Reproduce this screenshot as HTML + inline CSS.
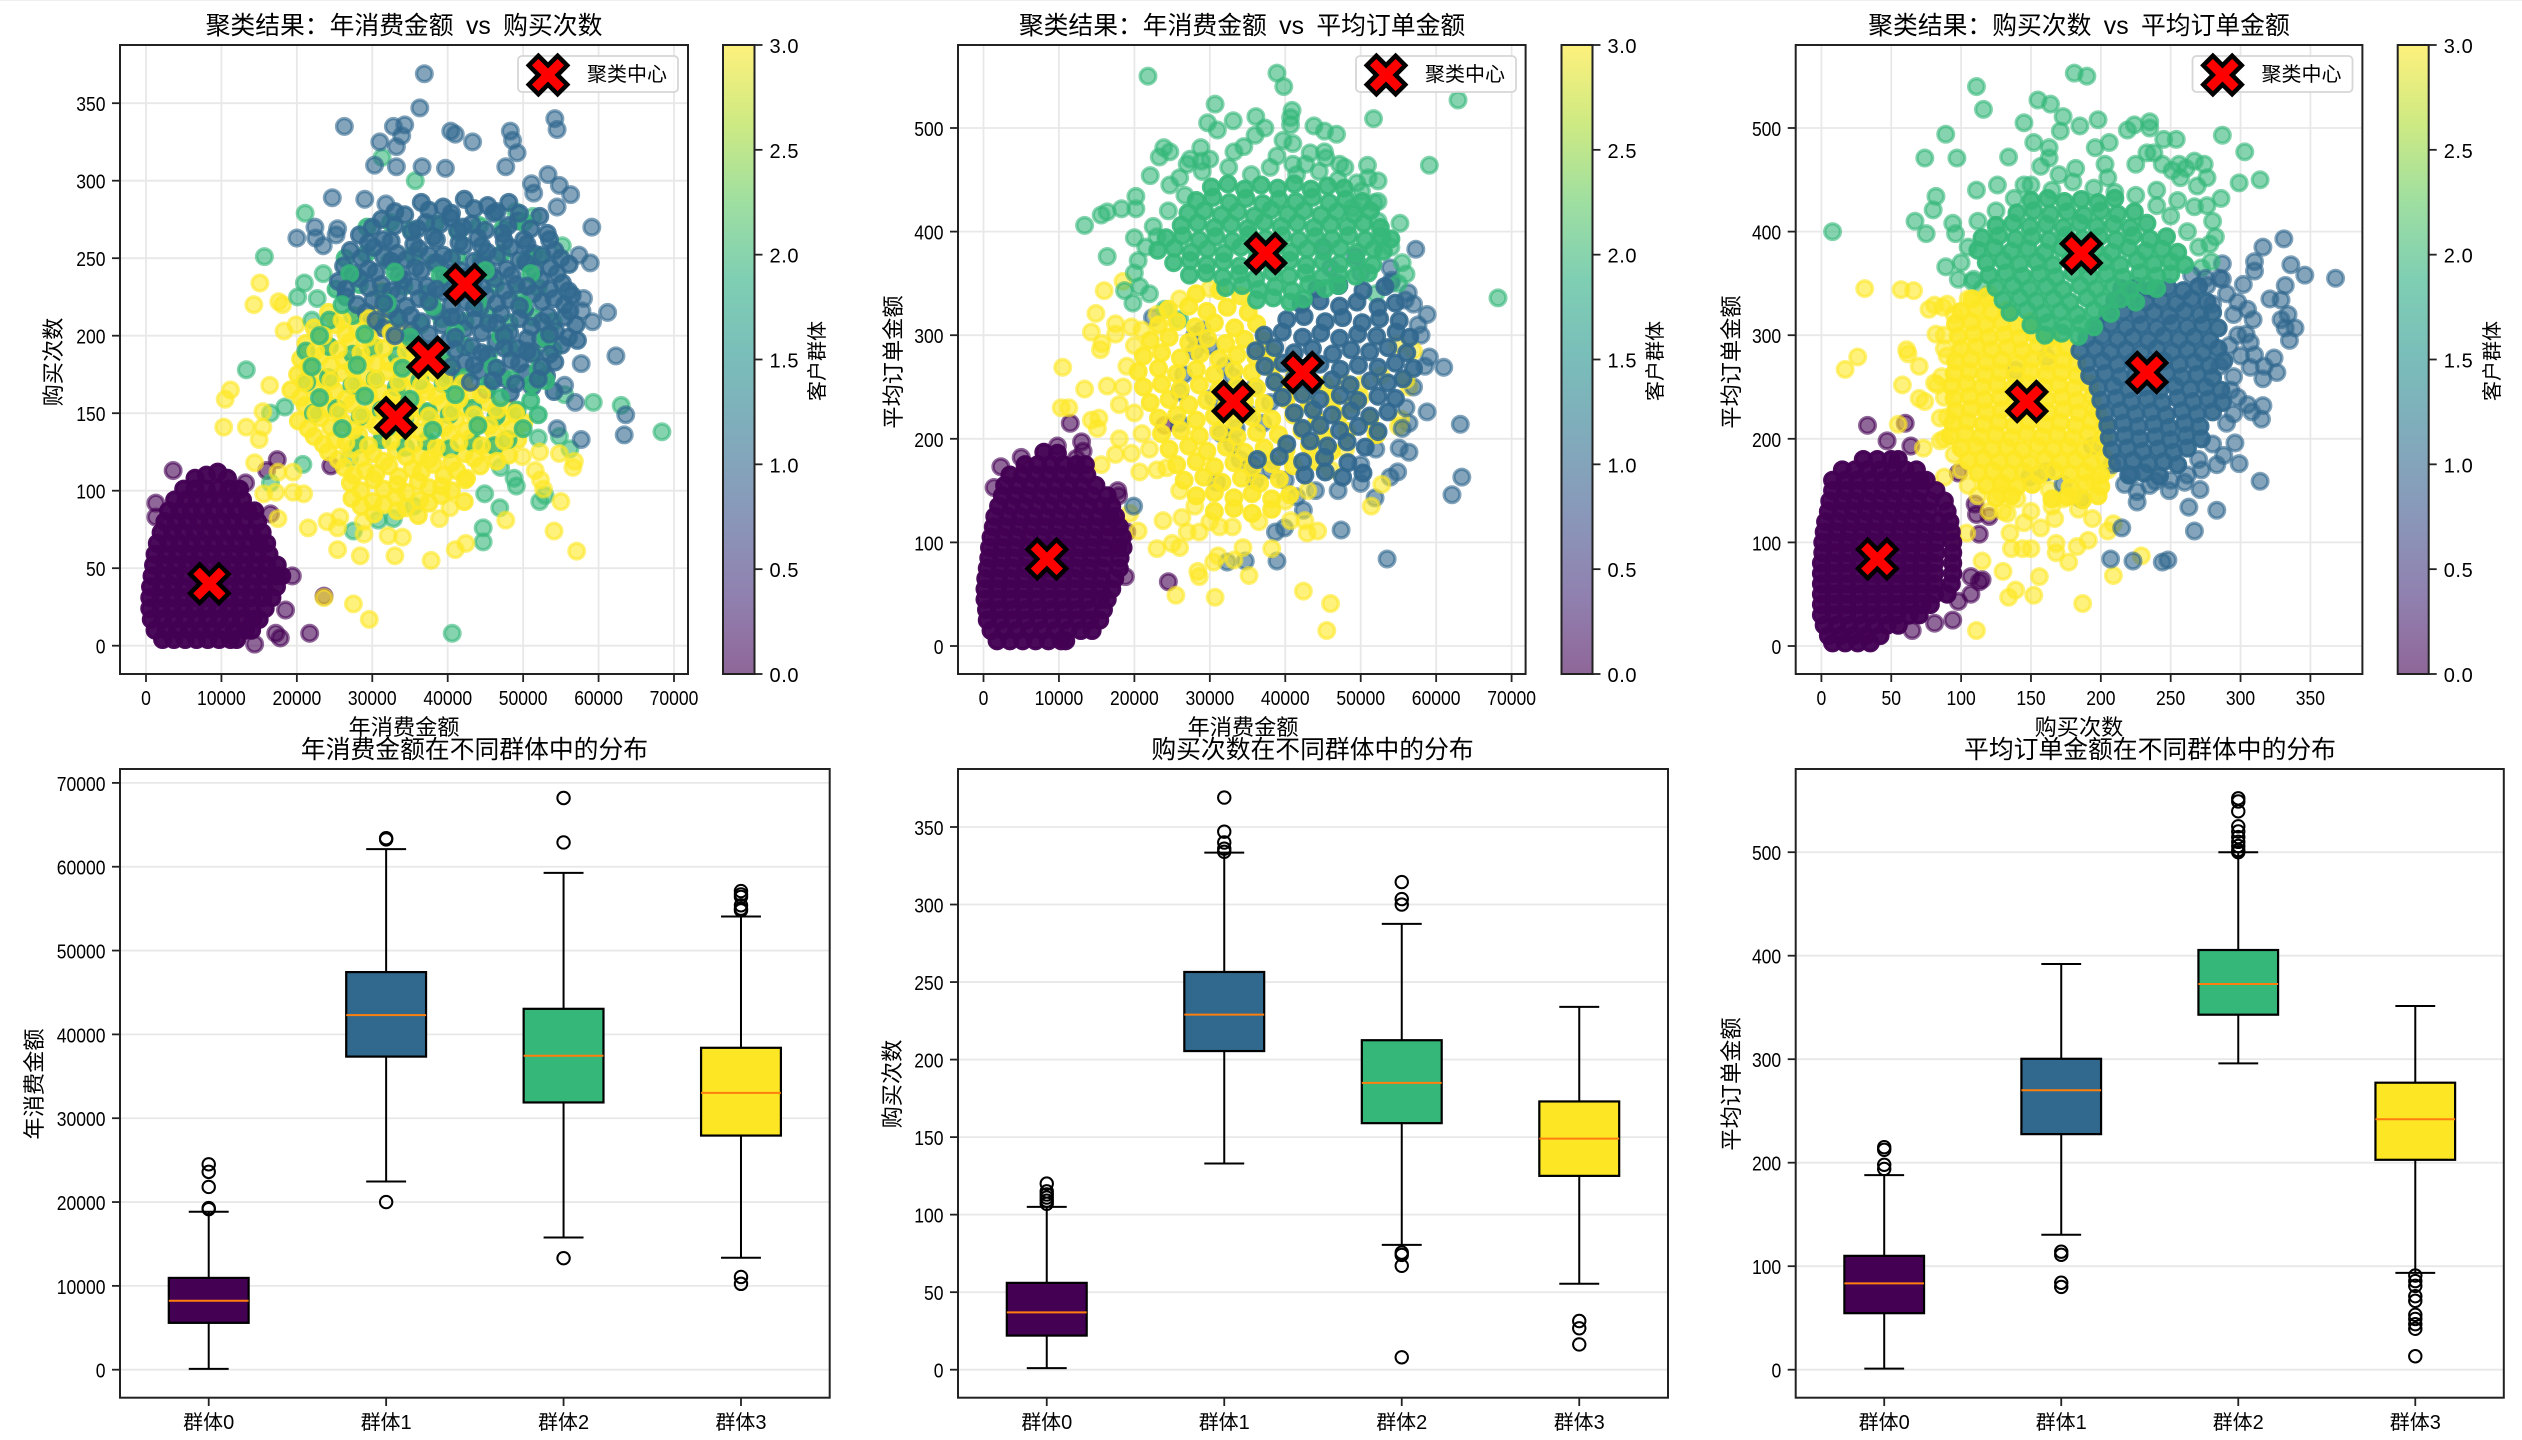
<!DOCTYPE html>
<html lang="zh">
<head>
<meta charset="utf-8">
<title>客户聚类结果</title>
<style>
html,body{margin:0;padding:0;background:#fff;}
svg{display:block;}
text{font-family:"Liberation Sans","Noto Sans CJK SC",sans-serif;fill:#000;}
.ttl{font-size:24.8px;text-anchor:middle;}
.lab{font-size:22.2px;text-anchor:middle;}
.cbl{font-size:20px;text-anchor:middle;}
.leg{font-size:20px;}
.spine{fill:none;stroke:#222;stroke-width:2;}
.legbox{fill:#fff;fill-opacity:.8;stroke:#d6d6d6;stroke-width:1.8;}
.xm{fill:#f00;stroke:#000;stroke-width:.46;stroke-linejoin:miter;}
</style>
</head>
<body>
<svg id="chart" xmlns="http://www.w3.org/2000/svg" width="2522" height="1440" viewBox="0 0 2522 1440">
<defs>
<linearGradient id="viridis" x1="0" y1="1" x2="0" y2="0">
<stop offset="0" stop-color="#440154" stop-opacity=".6"/><stop offset=".125" stop-color="#472d7b" stop-opacity=".6"/><stop offset=".25" stop-color="#3b528b" stop-opacity=".6"/><stop offset=".375" stop-color="#2c728e" stop-opacity=".6"/><stop offset=".5" stop-color="#21918c" stop-opacity=".6"/><stop offset=".625" stop-color="#28ae80" stop-opacity=".6"/><stop offset=".75" stop-color="#5ec962" stop-opacity=".6"/><stop offset=".875" stop-color="#addc30" stop-opacity=".6"/><stop offset="1" stop-color="#fde725" stop-opacity=".6"/>
</linearGradient>
</defs>
<rect x="0" y="0" width="2522" height="1440" fill="#fff"/>
<rect x="0" y="0" width="2522" height="1" fill="#efefef"/>

<g>
<g id="p1"></g>
<rect class="spine" x="120" y="45" width="568" height="629"/>
<g id="p1c"></g>
<text class="ttl" x="404" y="34">聚类结果：年消费金额&#8194;vs&#8194;购买次数</text>
<text class="lab" x="404" y="735">年消费金额</text>
<text class="lab" transform="translate(61 362) rotate(-90)">购买次数</text>
<g><rect class="legbox" x="518" y="56" width="160" height="36" rx="4"/><polygon class="xm" transform="translate(548 75) scale(9.625)" points="-1,-2 0,-1 1,-2 2,-1 1,0 2,1 1,2 0,1 -1,2 -2,1 -1,0 -2,-1"/><text class="leg" x="587" y="81">聚类中心</text></g>
<rect x="723" y="45" width="31.500" height="629" fill="url(#viridis)"/>
<rect class="spine" x="723" y="45" width="31.500" height="629"/>
<g id="p1b"></g>
<text class="cbl" transform="translate(824 361) rotate(-90)">客户群体</text>
</g>

<g>
<g id="p2"></g>
<rect class="spine" x="958" y="45" width="567.600" height="629"/>
<g id="p2c"></g>
<text class="ttl" x="1242" y="34">聚类结果：年消费金额&#8194;vs&#8194;平均订单金额</text>
<text class="lab" x="1243" y="735">年消费金额</text>
<text class="lab" transform="translate(901 362) rotate(-90)">平均订单金额</text>
<g><rect class="legbox" x="1356" y="56" width="160" height="36" rx="4"/><polygon class="xm" transform="translate(1386 75) scale(9.625)" points="-1,-2 0,-1 1,-2 2,-1 1,0 2,1 1,2 0,1 -1,2 -2,1 -1,0 -2,-1"/><text class="leg" x="1425" y="81">聚类中心</text></g>
<rect x="1561.500" y="45" width="31" height="629" fill="url(#viridis)"/>
<rect class="spine" x="1561.500" y="45" width="31" height="629"/>
<g id="p2b"></g>
<text class="cbl" transform="translate(1662 361) rotate(-90)">客户群体</text>
</g>

<g>
<g id="p3"></g>
<rect class="spine" x="1795.700" y="45" width="566.700" height="629"/>
<g id="p3c"></g>
<text class="ttl" x="2079" y="34">聚类结果：购买次数&#8194;vs&#8194;平均订单金额</text>
<text class="lab" x="2079" y="735">购买次数</text>
<text class="lab" transform="translate(1739 362) rotate(-90)">平均订单金额</text>
<g><rect class="legbox" x="2192.500" y="56" width="160" height="36" rx="4"/><polygon class="xm" transform="translate(2222.500 75) scale(9.625)" points="-1,-2 0,-1 1,-2 2,-1 1,0 2,1 1,2 0,1 -1,2 -2,1 -1,0 -2,-1"/><text class="leg" x="2261.500" y="81">聚类中心</text></g>
<rect x="2397.700" y="45" width="31" height="629" fill="url(#viridis)"/>
<rect class="spine" x="2397.700" y="45" width="31" height="629"/>
<g id="p3b"></g>
<text class="cbl" transform="translate(2499 361) rotate(-90)">客户群体</text>
</g>

<g>
<g id="b1"></g>
<rect class="spine" x="120" y="769" width="709.700" height="628.700"/>
<text class="ttl" x="474.500" y="758">年消费金额在不同群体中的分布</text>
<text class="lab" transform="translate(42 1084) rotate(-90)">年消费金额</text>
</g>
<g>
<g id="b2"></g>
<rect class="spine" x="958" y="769" width="710" height="628.700"/>
<text class="ttl" x="1312.500" y="758">购买次数在不同群体中的分布</text>
<text class="lab" transform="translate(900 1084) rotate(-90)">购买次数</text>
</g>
<g>
<g id="b3"></g>
<rect class="spine" x="1795.700" y="769" width="708.100" height="628.700"/>
<text class="ttl" x="2150" y="758">平均订单金额在不同群体中的分布</text>
<text class="lab" transform="translate(1739 1084) rotate(-90)">平均订单金额</text>
</g>
</svg>
<script>
/* ---------- cluster centres ---------- */
const centerSpend=[8400,42300,37400,33100];
const centerCount=[40,233,186,147];
const centerOrder=[84,264,379,236];
const clusterColors=['#440154','#31688e','#35b779','#fde725'];

/* ---------- panel 1: spend (x) vs count (y). "core" = heavily overplotted points, "outer" = individually visible points ---------- */
const p1c0x=[6500,8000,9500,10800,
5000,6500,8000,9500,11000,12400,
3800,5300,6800,8300,9800,11300,12800,
3000,4500,6000,7500,9000,10500,12000,13500,14400,
2500,4000,5500,7000,8500,10000,11500,13000,14800,
2000,3500,5000,6500,8000,9500,11000,12500,14000,15400,
1500,3000,4500,6000,7500,9000,10500,12000,13500,15000,16000,
1200,2700,4200,5700,7200,8700,10200,11700,13200,14700,16300,
1000,2500,4000,5500,7000,8500,10000,11500,13000,14500,16000,17400,
800,2300,3800,5300,6800,8300,9800,11300,12800,14300,15800,17300,18000,
600,2100,3600,5100,6600,8100,9600,11100,12600,14100,15600,17300,
500,2000,3500,5000,6500,8000,9500,11000,12500,14000,15500,16700,
500,2000,3500,5000,6500,8000,9500,11000,12500,14000,15800,
700,2200,3700,5200,6700,8200,9700,11200,12700,14200,15000,
1200,2700,4200,5700,7200,8700,10200,11700,13200,14000,
2200,3700,5200,6700,8200,9700,11200,12000];
const p1c0y=[108,110,112,108,
101,101,101,101,101,101,
94,94,94,94,94,94,94,
87,87,87,87,87,87,87,87,87,
80,80,80,80,80,80,80,80,80,
73,73,73,73,73,73,73,73,73,73,
66,66,66,66,66,66,66,66,66,66,66,
59,59,59,59,59,59,59,59,59,59,59,
52,52,52,52,52,52,52,52,52,52,52,52,
45,45,45,45,45,45,45,45,45,45,45,45,45,
38,38,38,38,38,38,38,38,38,38,38,38,
31,31,31,31,31,31,31,31,31,31,31,31,
24,24,24,24,24,24,24,24,24,24,24,
17,17,17,17,17,17,17,17,17,17,17,
10,10,10,10,10,10,10,10,10,10,
4,4,4,4,4,4,4,4];
const p1c0ox=[3600,1300,1300,17400,16000,13200,21700,23600,24500,14400,17200,17800,19400,18500,16500];
const p1c0oy=[113,92,83,120,113,105,8,32,116,1,8,5,45,23,85];
const p1c1ox=[36900,36300,26300,32800,34300,33900,31000,33200,40400,41000,43300,48300,48600,49200,54200,54500,30300,33200,36600,39700,47700,53300,54800,56300,51100,51400,24700,29000,31800,54500,59100,20000,22400,22500,23500,25400,25200,57400,58900,61200,59200,62300,57700,63600,63400,57700,54500,56900,55500,58000,57800];
const p1c1oy=[369,347,335,335,336,329,325,322,332,330,325,332,326,318,340,333,310,309,309,308,309,304,297,291,298,292,289,288,285,283,270,263,270,263,258,269,265,252,247,215,209,187,182,149,136,133,140,157,168,224,216];
const p1c1x=[36500,39400,42200,45300,48100,
31200,34300,37100,40400,43200,46100,49300,52200,
28300,31500,35200,38100,41300,44000,47300,50100,53200,
27100,30200,33300,36200,39400,42100,45200,48300,51400,54200,
26200,29500,32500,35700,38500,41700,44500,47800,50400,53600,56100,
25500,28300,31200,34100,37300,40200,43400,46200,49100,52300,55200,
26500,30100,33400,36200,39300,42400,45100,48200,51300,54100,56500,
29200,32300,35100,38400,41200,44300,47100,50200,53300,56200,
31400,35200,39300,42200,45400,48200,51100,54300,57000,
35300,40200,43200,46400,49200,52300,55100,57200,
37200,42300,45200,48400,51200,54200,
40100,44200,47300,50300,53100,
45200,48300,51200,54100,
33000,37500,40500,43500,46500,49500,
30000,33000,36000,39000,42000,45000,48000,51000,
29500,32500,35500,38500,41500,44500,47500,50500,53500,
28500,31500,34500,37500,40500,43500,46500,49500,52500,55000,
27500,30500,33500,36500,39500,42500,45500,48500,51500,54500,
26500,29500,32500,35500,38500,41500,44500,47500,50500,53500,56000,
28000,31500,34500,37500,40500,43500,46500,49500,52500,55500,
30500,33500,36500,40500,43500,46500,49500,52500,55500,
33000,37500,41000,44500,47500,50500,53500,56000,
37500,41000,44500,47500,50500,53500,
40500,43500,46500,49500,52500,
43000,46000,49000,52000];
const p1c1y=[286,283,288,284,286,
275,278,273,276,272,279,274,277,
265,262,267,264,268,263,266,262,266,
255,257,253,256,252,258,254,257,253,255,
245,243,248,244,247,242,246,243,247,244,246,
235,237,233,236,232,238,234,237,233,236,234,
225,223,227,224,228,222,226,223,227,224,226,
215,217,213,216,212,218,214,217,213,216,
205,203,207,204,208,202,206,203,207,
195,197,193,196,192,198,194,197,
185,183,187,184,188,183,
175,177,173,176,174,
165,163,167,164,
280,281,279,282,280,279,
270,271,269,272,270,268,271,269,
260,261,259,262,260,258,261,259,262,
250,251,249,252,250,248,251,249,252,250,
240,241,239,242,240,238,241,239,242,240,
230,231,229,232,230,228,231,229,232,230,229,
220,221,219,222,220,218,221,219,222,220,
210,211,209,212,210,208,211,209,212,
200,201,199,202,200,198,201,199,
190,191,189,192,190,188,
180,181,179,182,180,
170,171,169,172];
const p1c2ox=[31300,35700,21100,15700,23500,21000,20100,22700,22000,13300,16500,18400,20800,16500,27000,27500,30800,32800,35500,40600,44700,44700,46900,52200,52900,48800,49100,47000,44900,59300,63000,68400,52000,54800,56200,55500,51300,55200,49000];
const p1c2oy=[315,300,279,251,240,234,225,224,210,178,150,154,117,105,121,74,81,82,90,8,76,67,89,93,97,108,103,115,98,157,155,138,134,135,127,162,277,258,280];
const p1c2x=[29300,32400,35200,38300,41400,44200,47300,50100,
26400,29200,32300,35400,38200,41300,44400,47200,50300,52100,
25200,28300,31400,34200,37300,40400,43200,46300,49400,52000,
24300,27400,30200,33300,36400,39200,42300,45400,48200,51300,54000,
21200,24300,27400,30200,33300,36400,39200,42300,45400,48200,51300,54000,
21300,24200,27300,30400,33200,36300,39400,42200,45300,48400,51200,53000,
22200,25300,28400,31200,34300,37400,40200,43300,46400,49200,52000,
28200,31300,34400,37200,40300,43400,46200,48000,
27000,33000,39000,45000,51000,
26000,32000,38000,44000,50000,
23000,29000,35000,41000,47000,53000,
22000,28000,34000,40000,46000,52000,
23000,29000,35000,41000,47000,51000,
26000,32000,38000,44000,50000];
const p1c2y=[270,273,268,272,267,271,269,273,
250,253,248,252,247,251,249,253,248,251,
230,233,228,232,227,231,229,233,228,231,
210,213,208,212,207,211,209,213,208,212,209,
190,193,188,192,187,191,189,193,188,192,189,191,
170,173,168,172,167,171,169,173,168,172,169,171,
150,153,148,152,147,151,149,153,148,152,149,
130,133,128,132,127,131,129,133,
240,241,239,242,240,
220,221,219,222,220,
200,201,199,202,200,198,
180,181,179,182,180,178,
160,161,159,162,160,158,
140,141,139,142,140];
const p1c3ox=[15100,14300,17600,18100,31200,18300,19900,11200,10500,10300,13300,15500,15000,16400,15500,14400,17500,19500,19500,20900,17200,15600,17500,21500,24000,25400,25700,25400,28400,28900,28800,32100,34000,33000,37800,41000,42400,47700,54100,57100,55000,27500,29600,23600,38900,40300,52300,52700,51600,56600,56800,54800,52200,49900];
const p1c3oy=[234,220,222,220,229,203,207,165,159,141,141,141,133,168,151,118,112,112,99,98,99,98,82,76,80,76,83,62,58,72,80,71,70,58,55,62,66,81,74,61,93,27,17,31,82,89,107,101,113,115,119,124,125,122];
const p1c3x=[24200,28300,31100,
22300,25200,28100,31300,34200,
21200,24300,27100,30200,33300,36100,
20500,23200,26300,29100,32200,35300,38100,
20100,23300,26200,29300,32100,35200,38300,41200,
19200,22300,25100,28200,31300,34100,37200,40300,43100,
21100,24200,27300,30100,33200,36300,39100,42200,45300,48100,
20200,23100,26200,29300,32100,35200,38300,41100,44200,47300,50100,
22300,25100,28200,31300,34100,37200,40300,43100,46200,49300,
24200,27300,30100,33200,36300,39100,42200,45300,48100,
26300,29100,32200,35300,38100,41200,44300,
27100,30200,33300,36100,39200,42300,
27300,30100,33200,36300,39100,42200,
30200,33300,36100,
26000,29500,
23500,26500,29500,32500,
22500,25500,28500,31500,34500,
21500,24500,27500,30500,33500,36500,39500,
21000,24500,27500,30500,33500,36500,39500,42000,
20500,23500,26500,29500,32500,35500,38500,41500,44500,
22500,25500,28500,31500,34500,37500,40500,43500,46500,49000,
21500,24500,27500,30500,33500,36500,39500,42500,45500,48500,
23500,26500,29500,32500,35500,38500,41500,44500,47500,
25500,28500,31500,34500,37500,40500,43500,46500,
27500,30500,33500,36500,39500,42500,
28500,31500,34500,37500,40500,
28500,31500,34500,37500];
const p1c3y=[215,213,216,
205,207,204,206,203,
195,193,196,194,197,193,
185,187,184,186,183,187,184,
175,173,176,174,177,173,176,174,
165,167,164,166,163,167,164,166,163,
155,153,156,154,157,153,156,154,157,153,
145,147,144,146,143,147,144,146,143,147,144,
135,133,136,134,137,133,136,134,137,133,
125,127,124,126,123,127,124,126,123,
115,113,116,114,117,113,116,
105,107,104,106,103,107,
95,93,96,94,97,93,
85,87,84,
210,211,
200,201,199,202,
190,191,189,192,190,
180,181,179,182,180,178,181,
170,171,169,172,170,168,171,169,
160,161,159,162,160,158,161,159,162,
150,151,149,152,150,148,151,149,152,150,
140,141,139,142,140,138,141,139,142,140,
130,131,129,132,130,128,131,129,132,
120,121,119,122,120,118,121,119,
110,111,109,112,110,108,
100,101,99,102,100,
90,91,89,92];

/* ---------- panel 2: spend (x) vs average order value (y) ---------- */
const p2c0x=[8000,9800,
5500,7200,8900,10600,12300,13500,
3500,5200,6900,8600,10300,12000,13700,
2800,4500,6200,7900,9600,11300,13000,14900,
2500,4200,5900,7600,9300,11000,12700,14400,16400,
2000,3700,5400,7100,8800,10500,12200,13900,15600,17000,
1500,3200,4900,6600,8300,10000,11700,13400,15100,16800,17500,
1300,3000,4700,6400,8100,9800,11500,13200,14900,16600,18000,
1000,2700,4400,6100,7800,9500,11200,12900,14600,16300,18400,
800,2500,4200,5900,7600,9300,11000,12700,14400,16100,17800,18500,
700,2400,4100,5800,7500,9200,10900,12600,14300,16000,18100,
500,2200,3900,5600,7300,9000,10700,12400,14100,15800,18000,
300,2000,3700,5400,7100,8800,10500,12200,13900,15600,17400,
200,1900,3600,5300,7000,8700,10400,12100,13800,15500,17000,
200,1900,3600,5300,7000,8700,10400,12100,13800,15500,16400,
400,2100,3800,5500,7200,8900,10600,12300,14000,15900,
500,2200,3900,5600,7300,9000,10700,12400,14100,15400,
1000,2700,4400,6100,7800,9500,11200,12900,14400,
1800,3500,5200,6900,8600,10300,10900];
const p2c0y=[187,186,
175,175,175,175,175,175,
165,165,165,165,165,165,165,
155,155,155,155,155,155,155,155,
145,145,145,145,145,145,145,145,145,
135,135,135,135,135,135,135,135,135,135,
125,125,125,125,125,125,125,125,125,125,125,
115,115,115,115,115,115,115,115,115,115,115,
105,105,105,105,105,105,105,105,105,105,105,
95,95,95,95,95,95,95,95,95,95,95,95,
85,85,85,85,85,85,85,85,85,85,85,
75,75,75,75,75,75,75,75,75,75,75,
65,65,65,65,65,65,65,65,65,65,65,
55,55,55,55,55,55,55,55,55,55,55,
45,45,45,45,45,45,45,45,45,45,45,
35,35,35,35,35,35,35,35,35,35,
25,25,25,25,25,25,25,25,25,25,
15,15,15,15,15,15,15,15,15,
5,5,5,5,5,5,5];
const p2c0ox=[11500,9800,13000,5000,2300,1400,13200,12300,17800,17900,19000,18800,24500,24000];
const p2c0oy=[215,193,197,182,173,153,188,181,150,145,110,67,62,213];
const p2c1ox=[57300,53900,54100,56300,55900,58800,57600,59100,61000,58800,63200,56400,55100,56400,54900,53900,63400,62100,51900,50000,47400,53500,42400,41500,39900,38700,38900,32300,34700,19900,30900,22400,45000,49300,
29000,30000,26500,28000,28000,26000,30500,32000,33000,32000,26000,31500,33000,35500,38000,37000,35000,38000,36000,
57000,58000,58500,57000,56000,55500,52000,50000,47000,44000,40000,36000,34000,33500,54000,50000,47000,46000];
const p2c1oy=[383,365,353,341,334,320,310,279,269,226,214,215,191,187,168,163,163,146,143,157,112,84,131,144,114,110,82,81,82,135,158,317,385,376,
305,290,262,300,285,245,240,270,260,225,215,205,195,175,170,215,225,235,250,
330,300,270,250,230,210,190,175,150,150,160,160,180,210,350,360,350,365];
const p2c1x=[44200,47100,50300,53200,
42100,44600,47200,49500,52300,54600,
40200,42500,45300,47600,50200,52500,55100,
37200,39600,42300,44700,47200,49600,52100,54700,56500,
36100,38600,41200,43600,46300,48700,51200,53600,56100,
37300,39700,42100,44600,47300,49700,52300,54600,57000,
38600,41200,43600,46200,48600,51300,53600,55600,
39600,42300,44600,47300,49600,52300,54600,
41200,43700,46200,48700,51200,53600,
42300,44600,47200,49700,52300,
40200,43300,45600,48200,50600,
36300,39200,42300,45200,48300,
42600,45300,47600,50300];
const p2c1y=[345,348,343,347,
330,333,328,332,327,331,
315,318,313,317,312,316,314,
300,303,298,302,297,301,299,303,298,
285,288,283,287,282,286,284,288,283,
270,273,268,272,267,271,269,273,268,
255,258,253,257,252,256,254,258,
240,243,238,242,237,241,239,
225,228,223,227,222,226,
210,213,208,212,207,
195,198,193,197,192,
180,183,178,182,177,
165,168,163,167];
const p2c2ox=[21800,38900,39800,30700,40900,62900,36100,33100,29700,40700,40700,51700,37300,31000,36000,43800,45200,46800,39700,41000,28800,23900,24700,23300,33200,27400,27000,28900,38900,43300,45200,45400,41000,42700,47200,47900,50900,59100,22100,24700,26700,20200,20200,18300,16400,15600,13400,52300,50100,51800,52300,48900,52300,55200,16400,20000,20000,18700,20700,19800,68200,56000,
26000,29000,32500,35500,38000,41500,44500,47000,49500,24500,22500,21500,20500,23000,52500,54000,55500,55000,52000,22000,24000,26000,51000,30000,34500];
const p2c2oy=[550,553,540,523,517,527,511,507,505,510,503,509,500,498,493,502,497,494,488,485,481,481,477,472,477,470,465,468,473,476,477,471,465,465,465,462,464,464,454,445,435,434,422,422,419,416,406,449,439,428,429,423,410,408,376,394,360,343,347,331,336,359,
452,458,462,455,462,455,458,450,447,420,405,385,372,395,395,385,370,350,340,340,325,315,452,470,482];
const p2c2x=[30200,32400,34600,36800,39000,41200,43400,45600,47800,
28200,30400,32600,34800,37000,39200,41400,43600,45800,48000,50200,
27100,29300,31500,33700,35900,38100,40300,42500,44700,46900,49100,51300,
26200,28400,30600,32800,35000,37200,39400,41600,43800,46000,48200,50400,52600,
24200,26400,28600,30800,33000,35200,37400,39600,41800,44000,46200,48400,50600,52800,54000,
23100,25300,27500,29700,31900,34100,36300,38500,40700,42900,45100,47300,49500,51700,53000,
25200,27400,29600,31800,34000,36200,38400,40600,42800,45000,47200,49400,51600,
27300,29500,31700,33900,36100,38300,40500,42700,44900,47100,49300,51000,
32100,34300,36500,38700,40900,43100,45300,47000,
36200,38400,40600,42400];
const p2c2y=[443,446,441,445,442,446,441,444,442,
430,433,428,432,427,431,429,433,428,431,429,
418,420,416,419,415,421,417,420,416,419,417,420,
406,408,404,407,403,409,405,408,404,407,405,408,404,
394,396,392,395,391,397,393,396,392,395,393,396,392,395,393,
382,384,380,383,379,385,381,384,380,383,381,384,380,383,381,
370,372,368,371,367,373,369,372,368,371,369,372,368,
358,360,356,359,355,361,357,360,356,359,357,360,
346,348,344,347,343,349,345,348,
334,336,332,335];
const p2c3ox=[18500,16000,14900,14300,17500,17500,19600,15700,15500,10500,13400,10300,11300,16400,18000,14300,15300,15100,18000,17500,19600,15600,20700,24300,19400,20500,23000,23800,26300,25000,26000,27000,28600,31300,30500,31100,28400,28600,33200,35200,30700,25500,42400,46000,45500,51400,52800,34400,38200,42900,44300,40700,42600,55000,55300,56400,56000,54900,57000,52700,47900,50000,
20000,19000,18500,20000,21000,22000,23000,26000,28000,30000,33000,36500,40000,43000,46000,48000,52000,50000,30000,26000,23000,21000];
const p2c3oy=[352,343,321,303,311,301,308,292,286,269,248,230,230,251,233,218,220,210,200,185,186,175,168,172,128,111,94,121,124,99,95,110,110,115,81,87,72,67,83,68,47,49,53,41,15,135,156,95,94,109,111,121,121,212,219,250,257,291,285,261,254,252,
290,270,250,225,205,190,170,150,135,120,115,120,140,150,170,190,205,240,345,335,320,305];
const p2c3x=[28200,31300,34100,
24500,27200,29600,32300,35100,
23200,25600,28100,30600,33300,36200,
22100,24600,27200,29700,32100,34600,37200,
21200,23600,26100,28700,31200,33600,36100,38300,
20500,23200,25600,28200,30600,33200,35600,38200,41300,
21200,23600,26100,28600,31200,33600,36200,39100,42200,45300,
22100,24600,27200,29600,32200,34600,37200,40100,43200,46300,49100,
23200,25600,28200,30600,33200,35600,38200,41100,44200,47100,51200,
23600,26200,28600,31200,33600,36200,39100,42200,45100,48200,52100,
24600,27200,29600,32200,34600,37200,40100,43200,46100,
25600,28200,30600,33200,35600,38200,41100,44300,
26600,29200,31600,34200,36600,39200,
28200,30600,33200,35600,38200,40600,
30600,33200,35600,38200];
const p2c3y=[340,343,338,
325,328,323,327,322,
310,313,308,312,307,311,
295,298,293,297,292,296,294,
280,283,278,282,277,281,279,283,
265,268,263,267,262,266,264,268,263,
250,253,248,252,247,251,249,253,248,252,
235,238,233,237,232,236,234,238,233,237,234,
220,223,218,222,217,221,219,223,218,222,219,
205,208,203,207,202,206,204,208,203,207,204,
190,193,188,192,187,191,189,193,188,
175,178,173,177,172,176,174,178,
160,163,158,162,157,161,
145,148,143,147,142,146,
130,133,128,132];

/* ---------- panel 3: count (x) vs average order value (y) ---------- */
const p3c0x=[30,40,50,55,
15,24,33,42,51,60,68,
8,17,26,35,44,53,62,71,75,
8,17,26,35,44,53,62,71,82,
6,15,24,33,42,51,60,69,78,88,
5,14,23,32,41,50,59,68,77,90,
3,12,21,30,39,48,57,66,75,84,92,
2,11,20,29,38,47,56,65,74,83,93,
1,10,19,28,37,46,55,64,73,82,94,
1,10,19,28,37,46,55,64,73,82,94,
0,9,18,27,36,45,54,63,72,81,94,
0,9,18,27,36,45,54,63,72,81,94,
0,9,18,27,36,45,54,63,72,81,93,
0,9,18,27,36,45,54,63,72,81,90,
0,9,18,27,36,45,54,63,72,78,
0,9,18,27,36,45,54,63,70,
2,11,20,29,38,47,55,
5,14,23,32,42,
8,17,26,35];
const p3c0y=[180,180,180,180,
170,170,170,170,170,170,170,
160,160,160,160,160,160,160,160,160,
150,150,150,150,150,150,150,150,150,
140,140,140,140,140,140,140,140,140,140,
130,130,130,130,130,130,130,130,130,130,
120,120,120,120,120,120,120,120,120,120,120,
110,110,110,110,110,110,110,110,110,110,110,
100,100,100,100,100,100,100,100,100,100,100,
90,90,90,90,90,90,90,90,90,90,90,
80,80,80,80,80,80,80,80,80,80,80,
70,70,70,70,70,70,70,70,70,70,70,
60,60,60,60,60,60,60,60,60,60,60,
50,50,50,50,50,50,50,50,50,50,50,
40,40,40,40,40,40,40,40,40,40,
30,30,30,30,30,30,30,30,30,
20,20,20,20,20,20,20,
10,10,10,10,10,
3,3,3,3];
const p3c0ox=[33,60,47,64,98,120,110,107,113,115,107,94,81,65,98,113,111];
const p3c0oy=[213,215,198,193,167,125,137,67,62,64,50,25,22,15,43,108,127];
const p3c1ox=[331,316,310,310,336,346,368,287,287,302,276,298,321,329,332,334,329,339,332,335,305,309,304,307,310,307,324,317,316,326,293,305,316,315,308,295,296,299,314,283,288,272,271,263,283,267,260,249,239,226,226,217,215,207,223,244,248,186,173,149,161,139,161,162,194,
290,295,298,300,295,298,290,280,270,262,250,235,222,208,285,280,292,285,275,265];
const p3c1oy=[393,385,371,362,368,358,355,369,354,349,348,332,335,334,348,320,315,307,307,295,325,315,301,293,281,269,278,270,258,264,247,233,232,219,226,224,196,176,159,175,184,170,151,134,131,111,158,150,159,149,139,156,114,84,82,81,83,142,156,163,168,266,279,296,193,
340,320,300,280,260,240,215,195,180,165,160,155,165,175,355,330,290,270,355,358];
const p3c1x=[215,226,237,248,259,270,
210,221,232,243,254,265,276,
205,216,227,238,249,260,271,280,
196,207,218,229,240,251,262,273,284,
190,201,212,223,234,245,256,267,278,
185,196,207,218,229,240,251,262,273,284,
190,201,212,223,234,245,256,267,278,288,
192,203,214,225,236,247,258,269,280,
198,209,220,231,242,253,264,275,286,
200,211,222,233,244,255,266,277,287,
203,214,225,236,247,258,269,280,
205,216,227,238,249,260,271,
206,217,228,239,250,261,272,
208,219,230,241,252,262,
212,223,234,245,255,
220,231,242];
const p3c1y=[345,347,344,346,343,347,
333,335,332,334,331,335,332,
321,323,320,322,319,323,320,322,
309,311,308,310,307,311,308,310,307,
297,299,296,298,295,299,296,298,295,
285,287,284,286,283,287,284,286,283,287,
273,275,272,274,271,275,272,274,271,275,
261,263,260,262,259,263,260,262,259,
249,251,248,250,247,251,248,250,247,
237,239,236,238,235,239,236,238,235,
225,227,224,226,223,227,224,226,
213,215,212,214,211,215,212,
201,203,200,202,199,203,200,
189,191,188,190,187,191,
177,179,176,178,175,
165,167,164];
const p3c2ox=[181,190,111,116,155,164,145,173,185,198,171,89,152,163,206,196,219,224,235,235,245,254,287,303,74,97,134,163,157,182,203,225,233,238,244,251,256,261,267,274,276,257,269,299,314,126,111,145,82,80,67,75,8,94,96,89,98,109,286,276,267,279,278,
150,165,180,195,210,225,240,250,262,270,272,105,100,112,125,138,170,205,115,108,240,255,280,282];
const p3c2oy=[553,550,540,518,527,523,505,511,502,508,497,494,486,481,486,481,498,503,506,500,489,489,493,477,471,471,472,471,463,461,465,465,476,476,465,459,465,461,468,465,452,452,444,447,450,445,440,445,434,421,410,398,400,408,398,366,354,354,432,425,424,371,388,
445,440,448,442,438,435,425,415,400,385,365,385,370,410,420,432,455,452,345,352,440,430,410,395];
const p3c2x=[150,162,174,186,198,210,
140,152,164,176,188,200,212,224,
125,137,149,161,173,185,197,209,221,233,
115,127,139,151,163,175,187,199,211,223,235,247,
112,124,136,148,160,172,184,196,208,220,232,244,255,
118,130,142,154,166,178,190,202,214,226,238,250,260,
120,132,144,156,168,180,192,204,216,228,240,250,
125,137,149,161,173,185,197,209,221,233,240,
130,142,154,166,178,190,202,214,225,
135,147,159,171,183,195,207,
150,162,174,186,195,
160,172,184];
const p3c2y=[430,432,429,431,428,432,
418,420,417,419,416,420,417,419,
406,408,405,407,404,408,405,407,404,408,
394,396,393,395,392,396,393,395,392,396,393,395,
382,384,381,383,380,384,381,383,380,384,381,383,380,
370,372,369,371,368,372,369,371,368,372,369,371,368,
358,360,357,359,356,360,357,359,356,360,357,359,
346,348,345,347,344,348,345,347,344,348,345,
334,336,333,335,332,336,333,335,332,
322,324,321,323,320,324,321,
310,312,309,311,308,
300,302,299];
const p3c3ox=[31,57,66,77,81,87,82,88,61,62,26,17,70,58,81,83,70,74,55,90,73,85,88,94,104,115,130,139,134,152,156,111,187,209,229,205,209,177,168,168,136,144,150,135,133,145,157,167,183,191,184,194,129,129,140,163,173,198,
88,90,86,88,85,88,95,100,105,112,120,130,150,165,180,195,205,95,105,120,90];
const p3c3oy=[345,344,343,325,329,327,301,287,286,282,279,267,270,252,254,252,239,236,214,221,191,198,163,104,109,82,72,54,47,49,67,15,41,68,87,111,118,81,99,90,94,94,94,109,128,119,114,123,96,102,132,123,156,147,142,151,142,226,
300,280,260,240,220,200,185,170,155,145,130,130,130,135,145,160,170,320,335,340,330];
const p3c3x=[108,118,
100,111,122,133,
96,107,118,129,140,150,
98,109,120,131,142,153,164,
100,111,122,133,144,155,166,175,
96,107,118,129,140,151,162,173,183,
95,106,117,128,139,150,161,172,183,
93,104,115,126,137,148,159,170,181,192,
95,106,117,128,139,150,161,172,183,194,
96,107,118,129,140,151,162,173,184,195,
94,105,116,127,138,149,160,171,182,193,203,
92,103,114,125,136,147,158,169,180,191,202,
100,111,122,133,144,155,166,177,188,199,
105,116,127,138,149,160,171,182,193,203,
112,123,134,145,156,167,178,189,200,
118,129,140,151,178,189,200,
125,136,165,176,187,198];
const p3c3y=[335,337,
323,325,322,324,
311,313,310,312,309,313,
299,301,298,300,297,301,298,
287,289,286,288,285,289,286,288,
275,277,274,276,273,277,274,276,273,
263,265,262,264,261,265,262,264,261,
251,253,250,252,249,253,250,252,249,253,
239,241,238,240,237,241,238,240,237,241,
227,229,226,228,225,229,226,228,225,229,
215,217,214,216,213,217,214,216,213,217,214,
203,205,202,204,201,205,202,204,201,205,202,
191,193,190,192,189,193,190,192,189,193,
179,181,178,180,177,181,178,180,177,181,
167,169,166,168,165,169,166,168,165,
155,157,154,156,153,157,154,
143,145,142,144,141,145];

/* ---------- tick labels ---------- */
const spendTicks=[0,10000,20000,30000,40000,50000,60000,70000];
const countTicks=[0,50,100,150,200,250,300,350];
const orderTicks=[0,100,200,300,400,500];
const colorbarTicks=[0,0.5,1,1.5,2,2.5,3];
const groupLabels=['群体0','群体1','群体2','群体3'];

/* ---------- box plot: annual spend ---------- */
const spendQ1=[5590,37350,31880,27930];
const spendMedian=[8220,42300,37450,33030];
const spendQ3=[10950,47430,43050,38400];
const spendLow=[100,22450,15770,13360];
const spendHigh=[18840,62100,59260,54060];
const spendFliers=[[19150,19280,21800,23600,24500],[20000,63260,63400],[13300,62900,68200],[10240,11060,54800,55000,55400,56400,56700,57100]];
/* ---------- box plot: purchase count ---------- */
const countQ1=[22,205.5,159,125];
const countMedian=[37,229,185,149];
const countQ3=[56,256.5,212.5,173];
const countLow=[1,133,80.5,55.4];
const countHigh=[105,333.5,287.5,234];
const countFliers=[[107,109,111,113,115,120],[334,336,340,347,369],[8,67,74,75.5,300,303.5,314.5],[16.3,26.7,31.4]];
/* ---------- box plot: average order value ---------- */
const orderQ1=[54.6,227.6,343,202.8];
const orderMedian=[83.4,270,372.7,242];
const orderQ3=[110,300.4,405.5,277.3];
const orderLow=[1,130.4,296,93.6];
const orderHigh=[188,392,500,351.4];
const orderFliers=[[194,198,212.5,215],[80,84,111,114],[500,502,506,510,514.6,520,525,539.5,549,552],[13,39.5,44,49,53,66.5,71,81,85.6,91]];

const NS='http://www.w3.org/2000/svg';
const $=id=>document.getElementById(id);
function make(tag,attrs,parent){
  const n=document.createElementNS(NS,tag);
  for(const k in attrs)n.setAttribute(k,attrs[k]);
  parent.appendChild(n);
  return n;
}
function linear(d0,d1,r0,r1){return v=>r0+(v-d0)/(d1-d0)*(r1-r0);}
function hLine(parent,x1,x2,y,stroke,w,name){
  const l=make('line',{x1:x1,x2:x2,y1:y,y2:y,stroke:stroke,'stroke-width':w},parent);
  
  
  return l;
}
function vLine(parent,x,y1,y2,stroke,w,name){
  const l=make('line',{x1:x,x2:x,y1:y1,y2:y2,stroke:stroke,'stroke-width':w},parent);
  
  
  return l;
}
function tickText(parent,str,x,y,anchor,width,name,adjust){
  const t=make('text',{x:x,y:y,'text-anchor':anchor,'font-size':20},parent);
  t.textContent=str;
  if(width){t.setAttribute('textLength',width);t.setAttribute('lengthAdjust',adjust||'spacingAndGlyphs');}
  
  
  return t;
}
function yTicks(g,ticks,sy,left,right){
  ticks.forEach(v=>{
    hLine(g,left,right,sy(v),'#e8e8e8',1.8,'y-grid-line');
    hLine(g,left-8,left,sy(v),'#222',1.8,'y-tick');
    const s=String(v);
    tickText(g,s,left-14.500,sy(v)+8,'end',s.length*9.75,'y-tick-label');
  });
}
function dot(g,cx,cy,k,op){
  const c=make('circle',{cx:cx,cy:cy,r:7.85,fill:clusterColors[k],stroke:clusterColors[k],'fill-opacity':op,'stroke-opacity':op,'stroke-width':3.33},g);
  
  
}
function scatterPanel(cfg){
  const g=$(cfg.id),sx=linear(cfg.xd[0],cfg.xd[1],cfg.xr[0],cfg.xr[1]),sy=linear(0,cfg.yd,cfg.y0,cfg.y1);
  cfg.xTicks.forEach(v=>{
    vLine(g,sx(v),45,674,'#e8e8e8',1.8,'x-grid-line');
    vLine(g,sx(v),674,682,'#222',1.8,'x-tick');
    const s=String(v);
    tickText(g,s,sx(v),705,'middle',s.length*9.75,'x-tick-label');
  });
  yTicks(g,cfg.yTicks,sy,cfg.left,cfg.right);
  const outerLen=Math.max.apply(null,cfg.series.map(s=>s.ox.length));
  for(let i=0;i<outerLen;i++){
    cfg.series.forEach((s,k)=>{
      if(i<s.ox.length&&i<s.oy.length)dot(g,sx(s.ox[i]),sy(s.oy[i]),k,.6);
    });
  }
  const core=[];
  cfg.series.forEach((s,k)=>{
    const n=Math.min(s.x.length,s.y.length);
    for(let i=0;i<n;i++)core.push({x:s.x[i],y:s.y[i],k:k,t:i/n});
  });
  core.sort((a,b)=>a.t-b.t);
  core.forEach(p=>dot(g,sx(p.x),sy(p.y),p.k,p.k===0?.96:cfg.coreOpacity));
  const cg=$(cfg.id+'c');
  cfg.cx.forEach((v,i)=>{
    const m=make('polygon',{class:'xm',transform:'translate('+sx(v)+' '+sy(cfg.cy[i])+') scale(9.625)',points:'-1,-2 0,-1 1,-2 2,-1 1,0 2,1 1,2 0,1 -1,2 -2,1 -1,0 -2,-1'},cg);
    
    
  });
  const bg=$(cfg.id+'b'),sc=linear(0,3,674,45);
  colorbarTicks.forEach(v=>{
    hLine(bg,cfg.cb,cfg.cb+8,sc(v),'#222',1.8,'colorbar-tick');
    tickText(bg,v.toFixed(1),cfg.cb+15,sc(v)+8,'start',29,'colorbar-tick-label','spacing');
  });
}
function boxPanel(cfg){
  const g=$(cfg.id),sy=linear(0,cfg.yd,cfg.y0,cfg.y1),w=cfg.right-cfg.left,sx=linear(0.5,4.5,cfg.left,cfg.right),boxW=0.45*w/4;
  yTicks(g,cfg.ticks,sy,cfg.left,cfg.right);
  groupLabels.forEach((lab,i)=>{
    const x=sx(i+1);
    vLine(g,x,1398,1406,'#222',1.8,'x-tick');
    tickText(g,lab,x,1429,'middle',0,'x-tick-label');
    vLine(g,x,sy(cfg.q3[i]),sy(cfg.high[i]),'#000',2,'upper-whisker');
    vLine(g,x,sy(cfg.q1[i]),sy(cfg.low[i]),'#000',2,'lower-whisker');
    hLine(g,x-boxW/4,x+boxW/4,sy(cfg.high[i]),'#000',2,'upper-cap');
    hLine(g,x-boxW/4,x+boxW/4,sy(cfg.low[i]),'#000',2,'lower-cap');
    const r=make('rect',{x:x-boxW/2,y:sy(cfg.q3[i]),width:boxW,height:sy(cfg.q1[i])-sy(cfg.q3[i]),fill:clusterColors[i],stroke:'#000','stroke-width':2.2},g);
    
    
    hLine(g,x-boxW/2,x+boxW/2,sy(cfg.med[i]),'#ff7f0e',2,'median-line');
    cfg.fliers[i].forEach(v=>{
      const c=make('circle',{cx:x,cy:sy(v),r:6.2,fill:'none',stroke:'#000','stroke-width':2},g);
      
      
    });
  });
}
scatterPanel({id:'p1',left:120,right:688,xd:[0,70000],xr:[146,674],yd:350,y0:645.7,y1:103.2,xTicks:spendTicks,yTicks:countTicks,cb:754.5,cx:centerSpend,cy:centerCount,coreOpacity:.8,
  series:[{x:p1c0x,y:p1c0y,ox:p1c0ox,oy:p1c0oy},{x:p1c1x,y:p1c1y,ox:p1c1ox,oy:p1c1oy},{x:p1c2x,y:p1c2y,ox:p1c2ox,oy:p1c2oy},{x:p1c3x,y:p1c3y,ox:p1c3ox,oy:p1c3oy}]});
scatterPanel({id:'p2',left:958,right:1525.6,xd:[0,70000],xr:[983.5,1511.6],yd:500,y0:646,y1:128,xTicks:spendTicks,yTicks:orderTicks,cb:1592.5,cx:centerSpend,cy:centerOrder,coreOpacity:.88,
  series:[{x:p2c0x,y:p2c0y,ox:p2c0ox,oy:p2c0oy},{x:p2c1x,y:p2c1y,ox:p2c1ox,oy:p2c1oy},{x:p2c2x,y:p2c2y,ox:p2c2ox,oy:p2c2oy},{x:p2c3x,y:p2c3y,ox:p2c3ox,oy:p2c3oy}]});
scatterPanel({id:'p3',left:1795.7,right:2362.4,xd:[0,350],xr:[1821.4,2310.4],yd:500,y0:646,y1:128,xTicks:countTicks,yTicks:orderTicks,cb:2428.7,cx:centerCount,cy:centerOrder,coreOpacity:.9,
  series:[{x:p3c0x,y:p3c0y,ox:p3c0ox,oy:p3c0oy},{x:p3c1x,y:p3c1y,ox:p3c1ox,oy:p3c1oy},{x:p3c2x,y:p3c2y,ox:p3c2ox,oy:p3c2oy},{x:p3c3x,y:p3c3y,ox:p3c3ox,oy:p3c3oy}]});
boxPanel({id:'b1',left:120,right:829.7,yd:70000,y0:1369.7,y1:782.9,ticks:spendTicks,q1:spendQ1,med:spendMedian,q3:spendQ3,low:spendLow,high:spendHigh,fliers:spendFliers});
boxPanel({id:'b2',left:958,right:1668,yd:350,y0:1369.7,y1:827,ticks:countTicks,q1:countQ1,med:countMedian,q3:countQ3,low:countLow,high:countHigh,fliers:countFliers});
boxPanel({id:'b3',left:1795.7,right:2503.8,yd:500,y0:1369.7,y1:852.2,ticks:orderTicks,q1:orderQ1,med:orderMedian,q3:orderQ3,low:orderLow,high:orderHigh,fliers:orderFliers});
</script>
</body>
</html>
